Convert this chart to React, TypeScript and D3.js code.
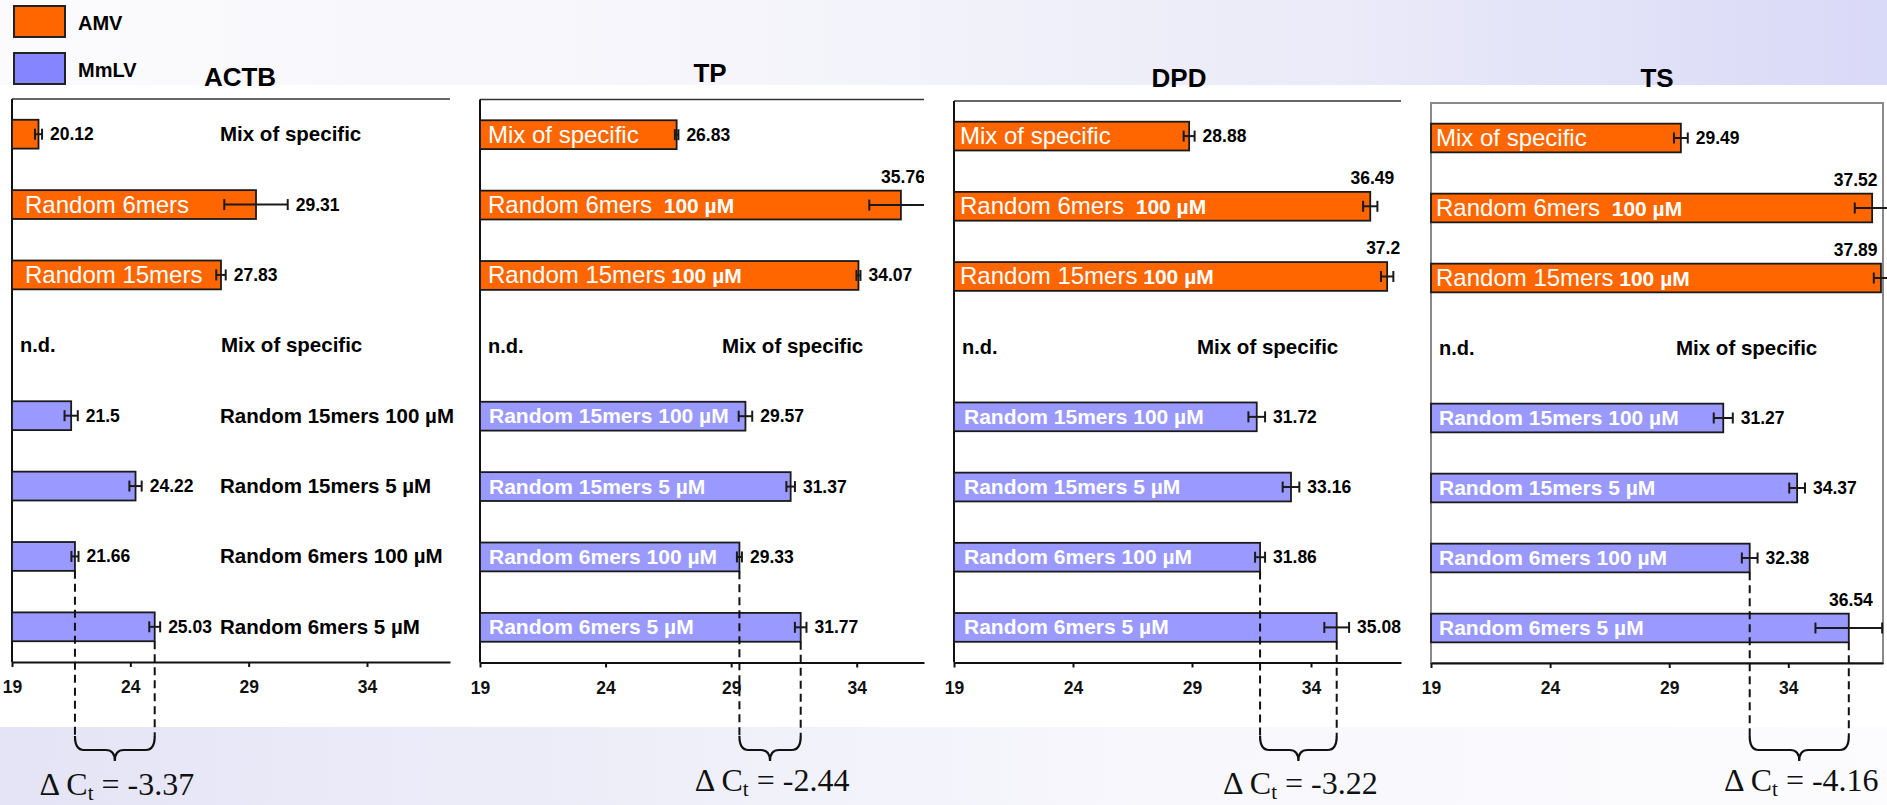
import React, { useEffect, useRef } from 'react';
import * as d3 from 'd3';

// ---- data ----
const genes = ['ACTB', 'TP', 'DPD', 'TS'];
const amvLabels = ['Mix of specific', 'Random 6mers', 'Random 15mers'];
// concentration written after the random-primer AMV labels (none for ACTB)
const amvConcentration = ['', '100 µM', '100 µM', '100 µM'];
const mmlvLabels = [
  'Mix of specific',
  'Random 15mers 100 µM',
  'Random 15mers 5 µM',
  'Random 6mers 100 µM',
  'Random 6mers 5 µM',
];

const actbAmv = [20.12, 29.31, 27.83];
const actbAmvErr = [0.15, 1.34, 0.2];
const actbMmlv = [null, 21.5, 24.22, 21.66, 25.03];
const actbMmlvErr = [0, 0.28, 0.26, 0.15, 0.23];

const tpAmv = [26.83, 35.76, 34.07];
const tpAmvErr = [0.07, 1.26, 0.08];
const tpMmlv = [null, 29.57, 31.37, 29.33, 31.77];
const tpMmlvErr = [0, 0.27, 0.17, 0.1, 0.23];

const dpdAmv = [28.88, 36.49, 37.2];
const dpdAmvErr = [0.23, 0.3, 0.26];
const dpdMmlv = [null, 31.72, 33.16, 31.86, 35.08];
const dpdMmlvErr = [0, 0.35, 0.35, 0.21, 0.52];

const tsAmv = [29.49, 37.52, 37.89];
const tsAmvErr = [0.29, 0.73, 0.3];
const tsMmlv = [null, 31.27, 34.37, 32.38, 36.54];
const tsMmlvErr = [0, 0.4, 0.33, 0.33, 1.4];

const deltaCt = [-3.37, -2.44, -3.22, -4.16];
const xTicks = [19, 24, 29, 34];

const amvValues = [actbAmv, tpAmv, dpdAmv, tsAmv];
const amvErrors = [actbAmvErr, tpAmvErr, dpdAmvErr, tsAmvErr];
const mmlvValues = [actbMmlv, tpMmlv, dpdMmlv, tsMmlv];
const mmlvErrors = [actbMmlvErr, tpMmlvErr, dpdMmlvErr, tsMmlvErr];

// ---- layout ----
const W = 1887;
const H = 805;
const SANS = '"Liberation Sans", Arial, sans-serif';
const SERIF = '"Liberation Serif", "Times New Roman", serif';
const AMV_COLOR = '#FF6600';
const MMLV_COLOR = '#9999FF';

const panels = [
  { left: 12, x34: 367, right: 450, top: 99, bottom: 662, clip: 470, titleX: 240, titleY: 86, ndX: 221, outsideX: 220, insetA: 13, insetM: 9, dY: 795, box: false },
  { left: 480, x34: 856.7, right: 924, top: 99.5, bottom: 662.5, clip: 924, titleX: 710, titleY: 82, ndX: 722, outsideX: 722, insetA: 8, insetM: 9, dY: 791, box: false },
  { left: 954, x34: 1311, right: 1401, top: 101, bottom: 662.5, clip: 1405, titleX: 1179, titleY: 87, ndX: 1197, outsideX: 1197, insetA: 6, insetM: 10, dY: 794, box: false },
  { left: 1431, x34: 1788.3, right: 1883, top: 103, bottom: 663, clip: 1887, titleX: 1657, titleY: 87, ndX: 1676, outsideX: 1676, insetA: 5, insetM: 8, dY: 791, box: true },
];

const App = () => {
  const ref = useRef(null);

  useEffect(() => {
    const svg = d3.select(ref.current);
    svg.selectAll('*').remove();

    const defs = svg.append('defs');
    const topGrad = defs.append('linearGradient').attr('id', 'topGrad');
    [['0', '#fbfbfd'], ['0.4', '#f5f5fb'], ['0.7', '#ebebf9'], ['1', '#d9d9f8']].forEach(([o, c]) =>
      topGrad.append('stop').attr('offset', o).attr('stop-color', c)
    );
    const botGrad = defs.append('linearGradient').attr('id', 'botGrad');
    [['0', '#e4e4f6'], ['0.3', '#ededf9'], ['0.6', '#f7f7fc'], ['1', '#fcfcfe']].forEach(([o, c]) =>
      botGrad.append('stop').attr('offset', o).attr('stop-color', c)
    );

    // Background bands
    svg.append('rect').attr('width', W).attr('height', 85).attr('fill', 'url(#topGrad)');
    svg.append('rect').attr('y', 85).attr('width', W).attr('height', 642).attr('fill', '#ffffff');
    svg.append('rect').attr('y', 727).attr('width', W).attr('height', H - 727).attr('fill', 'url(#botGrad)');

    // Legend
    const legendItems = [
      ['AMV', '#FF6600'],
      ['MmLV', '#8585FF'],
    ];
    legendItems.forEach(([name, color], i) => {
      svg.append('rect')
        .attr('x', 14).attr('y', 6 + i * 47)
        .attr('width', 51).attr('height', 31)
        .attr('fill', color).attr('stroke', '#222').attr('stroke-width', 2);
      svg.append('text')
        .attr('x', 78).attr('y', 30 + i * 47)
        .attr('font-family', SANS).attr('font-weight', 'bold').attr('font-size', 20)
        .text(name);
    });

    panels.forEach((p, gi) => {
      const x = d3.scaleLinear().domain([19, 34]).range([p.left, p.x34]);
      const xEnd = x.invert(p.right);
      x.domain([19, xEnd]).range([p.left, p.right]);
      const x38 = p.left + (p.x34 - p.left) / 15 * 19;

      const y = d3.scaleBand()
        .domain(d3.range(8))
        .range([p.top, p.bottom])
        .paddingInner(0.59)
        .paddingOuter(0.295);
      const bw = y.bandwidth();

      defs.append('clipPath').attr('id', `clip${gi}`)
        .append('rect')
        .attr('x', p.left - 40).attr('y', 0)
        .attr('width', p.clip - p.left + 40).attr('height', H);

      const g = svg.append('g').attr('clip-path', `url(#clip${gi})`);

      // Title
      svg.append('text')
        .attr('x', p.titleX).attr('y', p.titleY)
        .attr('text-anchor', 'middle')
        .attr('font-family', SANS).attr('font-weight', 'bold').attr('font-size', 26)
        .text(genes[gi]);

      // Frame
      if (p.box) {
        g.append('rect')
          .attr('x', p.left).attr('y', p.top)
          .attr('width', p.right - p.left).attr('height', p.bottom - p.top)
          .attr('fill', 'none').attr('stroke', '#8a8a8a').attr('stroke-width', 2);
      } else {
        g.append('line')
          .attr('x1', p.left).attr('x2', p.right)
          .attr('y1', p.top).attr('y2', p.top)
          .attr('stroke', '#333').attr('stroke-width', 1.5);
        g.append('line')
          .attr('x1', p.left).attr('x2', p.left)
          .attr('y1', p.top).attr('y2', p.bottom)
          .attr('stroke', '#111').attr('stroke-width', 2);
      }

      const rows = [
        ...amvValues[gi].map((v, i) => ({
          v, e: amvErrors[gi][i], group: 'AMV', name: amvLabels[i], conc: i > 0 ? amvConcentration[gi] : '',
        })),
        ...mmlvValues[gi].map((v, i) => ({
          v, e: mmlvErrors[gi][i], group: 'MmLV', name: mmlvLabels[i], conc: '',
        })),
      ];

      rows.forEach((r, i) => {
        const cy = y(i) + bw / 2;
        if (r.v == null) {
          g.append('text')
            .attr('x', p.left + 8).attr('y', cy + 7)
            .attr('font-family', SANS).attr('font-weight', 'bold').attr('font-size', 20)
            .text('n.d.');
          g.append('text')
            .attr('x', p.ndX).attr('y', cy + 7)
            .attr('font-family', SANS).attr('font-weight', 'bold').attr('font-size', 20.5)
            .text(r.name);
          return;
        }
        const fill = r.group === 'AMV' ? AMV_COLOR : MMLV_COLOR;
        const barW = x(r.v) - p.left;
        g.append('rect')
          .attr('x', p.left).attr('y', y(i))
          .attr('width', barW).attr('height', bw)
          .attr('fill', fill).attr('stroke', '#1a1a1a').attr('stroke-width', 1.8);

        // Error bar
        const x1 = x(r.v - r.e);
        const x2 = x(r.v + r.e);
        g.append('line')
          .attr('x1', x1).attr('x2', x2).attr('y1', cy).attr('y2', cy)
          .attr('stroke', '#1a1a1a').attr('stroke-width', 2);
        [x1, x2].forEach((xx) =>
          g.append('line')
            .attr('x1', xx).attr('x2', xx).attr('y1', cy - 5.5).attr('y2', cy + 5.5)
            .attr('stroke', '#1a1a1a').attr('stroke-width', 2)
        );

        // Category label
        const inside = barW > 170;
        if (inside) {
          const t = g.append('text')
            .attr('y', cy + 8)
            .attr('fill', '#ffffff').attr('font-family', SANS);
          if (r.group === 'AMV') {
            t.attr('x', p.left + p.insetA);
            t.append('tspan').attr('font-size', 24).text(r.name);
            if (r.conc) {
              t.append('tspan')
                .attr('font-size', 21).attr('font-weight', 'bold')
                .attr('xml:space', 'preserve')
                .text((r.name.includes('15') ? ' ' : '  ') + r.conc);
            }
          } else {
            t.attr('x', p.left + p.insetM)
              .attr('font-size', 21).attr('font-weight', 'bold').attr('y', cy + 7).text(r.name);
          }
        } else {
          g.append('text')
            .attr('x', p.outsideX).attr('y', cy + 7)
            .attr('font-family', SANS).attr('font-weight', 'bold').attr('font-size', 20.5)
            .text(r.conc ? `${r.name} ${r.conc}` : r.name);
        }

        // Value label
        const labelStart = Math.max(x2, x(r.v)) + 8;
        const above = labelStart + 44 > p.right + 4;
        g.append('text')
          .attr('x', above ? Math.min(x(r.v) + 24, x38 - 6) : labelStart)
          .attr('y', above ? cy - 22 : cy + 6)
          .attr('text-anchor', above ? 'end' : 'start')
          .attr('font-family', SANS).attr('font-weight', 'bold').attr('font-size', 17.5)
          .text(String(r.v));
      });

      // X axis
      const axis = svg.append('g')
        .attr('transform', `translate(0,${p.bottom})`)
        .call(d3.axisBottom(x).tickValues(xTicks).tickSize(5).tickSizeOuter(0).tickPadding(14));
      axis.select('.domain').attr('stroke', '#111').attr('stroke-width', 2);
      axis.selectAll('.tick line').attr('stroke', '#111').attr('stroke-width', 2);
      axis.selectAll('.tick text')
        .attr('font-family', SANS).attr('font-weight', 'bold').attr('font-size', 17.5).attr('fill', '#111');

      // Delta Ct annotation between Random 6mers 100 µM and Random 6mers 5 µM
      const a = rows[6];
      const b = rows[7];
      const xa = x(a.v);
      const xb = x(b.v);
      const braceTop = 736;
      const braceMid = 750;
      const braceTip = 761;
      [[xa, y(6) + bw], [xb, y(7) + bw]].forEach(([xx, y0]) =>
        svg.append('line')
          .attr('x1', xx).attr('x2', xx).attr('y1', y0).attr('y2', braceTop)
          .attr('stroke', '#111').attr('stroke-width', 2).attr('stroke-dasharray', '8,5')
      );
      const cx = (xa + xb) / 2;
      const rr = 9;
      svg.append('path')
        .attr('d',
          `M${xa},${braceTop} Q${xa},${braceMid} ${xa + rr},${braceMid} L${cx - rr},${braceMid} ` +
          `Q${cx},${braceMid} ${cx},${braceTip} Q${cx},${braceMid} ${cx + rr},${braceMid} ` +
          `L${xb - rr},${braceMid} Q${xb},${braceMid} ${xb},${braceTop}`)
        .attr('fill', 'none').attr('stroke', '#111').attr('stroke-width', 2.2);

      const dt = svg.append('text')
        .attr('x', cx + 2).attr('y', p.dY)
        .attr('text-anchor', 'middle')
        .attr('font-family', SERIF).attr('font-size', 32).attr('fill', '#111');
      dt.append('tspan').text('Δ C');
      dt.append('tspan').attr('font-size', 21).attr('dy', 5).text('t');
      dt.append('tspan').attr('dy', -5).text(` = ${deltaCt[gi]}`);
    });
  }, []);

  return (
    <svg
      ref={ref}
      width={W}
      height={H}
      style={{ position: 'absolute', left: 0, top: 0, display: 'block' }}
    />
  );
};

export default App;
